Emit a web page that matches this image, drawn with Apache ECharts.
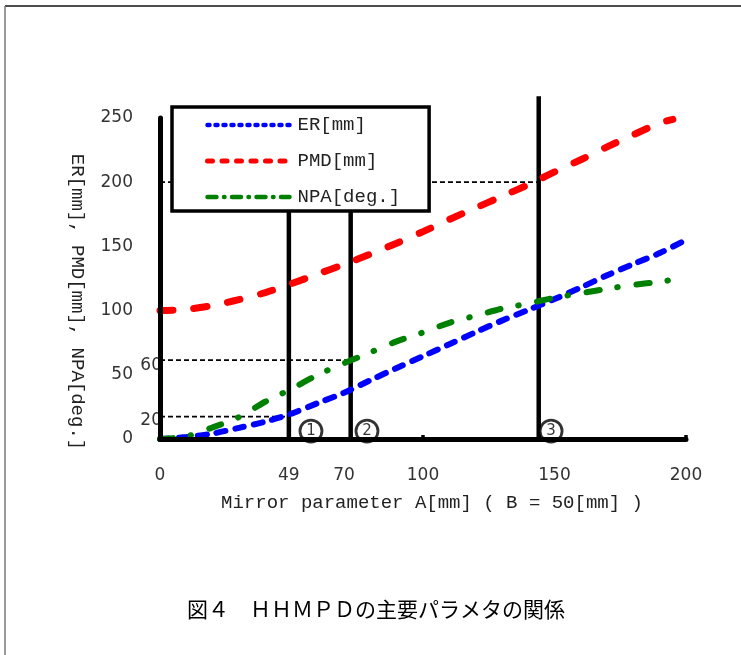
<!DOCTYPE html>
<html>
<head>
<meta charset="utf-8">
<script src="https://cdn.jsdelivr.net/npm/echarts@6/dist/echarts.min.js"></script>
<style>
  html, body { margin: 0; padding: 0; background: #fff; }
  #chart { width: 741px; height: 655px; }
</style>
</head>
<body>
<div id="chart"></div>
<script>
// Mirror parameter A [mm] sampled along the curves
const mirrorA = [0, 10, 20, 30, 40, 50, 60, 70, 80, 90, 100, 110, 120, 130, 140, 150, 160, 170, 180, 190, 200];
const erMm    = [0, 1.5, 4.2, 8.7, 13.5, 19.8, 28, 36, 45.8, 55.3, 64.5, 73.8, 83.2, 92.2, 100.5, 109, 118, 127.5, 136.3, 144.8, 155];
const npaDeg  = [0, 2, 9, 17, 29, 39, 50, 59, 67.5, 76, 83, 90.5, 96, 101.5, 105.5, 110, 113.5, 117, 120, 122.5, 125.5];
const pmdA    = [0, 10, 20, 30, 40, 50, 60, 70, 80, 90, 100, 110, 120, 130, 140, 150, 160, 170, 180, 190, 195];
const pmdMm   = [100, 101, 104, 108.5, 114, 121, 128.5, 136, 144, 152.5, 161.5, 171, 180, 189, 198, 208, 217.5, 227.5, 237, 246, 249];

const seriesNames  = ['ER[mm]', 'PMD[mm]', 'NPA[deg.]'];
const seriesColors = ['#0000ff', '#ff0000', '#008000'];

// Axis ticks
const xTickValues = [0, 49, 70, 100, 150, 200];
const xTickMarks  = [100, 200];
const yMin = 0, yMax = 250, yStep = 50;

// Vertical guide lines at the design points
const guideA   = [49, 72.5, 144];
const guideTop = [200, 200, 267];
// Horizontal dashed guides (level, end point on A, annotation)
const levelY    = [200, 61.5, 17.5];
const levelEndA = [144, 72.5, 49];
const levelText = ['', '60', '20'];
// Circled point numbers
const circleA    = [57.4, 78.7, 148.7];
const circleY    = 6.2;
const circleText = ['1', '2', '3'];

const xName = 'Mirror parameter A[mm] ( B = 50[mm] )';
const yName = 'ER[mm], PMD[mm], NPA[deg.]';
const caption = '図４　ＨＨＭＰＤの主要パラメタの関係';

const MONO = '"Liberation Mono", "DejaVu Sans Mono", monospace';
const SANS = '"DejaVu Sans", sans-serif';

const pairs = (xs, ys) => xs.map((x, i) => [x, ys[i]]);

const series = [];

// Vertical guides
guideA.forEach((a, i) => {
  series.push({
    type: 'line', clip: false, silent: true, symbol: 'none', z: 1, color: '#000',
    data: [[a, 0], [a, guideTop[i]]],
    lineStyle: { color: '#000', width: 4.5 }
  });
});

// Horizontal dashed guides with their level annotation at the axis
levelY.forEach((v, i) => {
  series.push({
    type: 'line', clip: false, silent: true, z: 1, color: '#000',
    symbol: 'circle', symbolSize: 0.1, showSymbol: true,
    data: [
      { value: [0, v], label: { show: !!levelText[i], formatter: levelText[i], position: 'left',
        distance: -2, offset: [0, i === 1 ? 6 : 4], color: '#333', fontFamily: SANS, fontSize: 17 } },
      { value: [levelEndA[i], v], label: { show: false } }
    ],
    lineStyle: { color: '#000', width: 1.8, type: [5, 3] }
  });
});

// Data curves
const curveStyles = [
  { width: 6, type: [9, 10] },
  { width: 7, type: [13, 21] },
  { width: 6, type: [13, 18, 0.5, 19] }
];
const curveData = [pairs(mirrorA, erMm), pairs(pmdA, pmdMm), pairs(mirrorA, npaDeg)];
seriesNames.forEach((name, i) => {
  series.push({
    name: name, type: 'line', smooth: 0.3, symbol: 'none', z: 2,
    color: seriesColors[i],
    data: curveData[i],
    lineStyle: { color: seriesColors[i], width: curveStyles[i].width, type: curveStyles[i].type, cap: 'round' }
  });
});

// Circled numbers
series.push({
  type: 'scatter', silent: true, z: 2,
  symbol: 'circle', symbolSize: 22,
  itemStyle: { color: '#fff', borderColor: '#000', borderWidth: 2.8 },
  data: circleA.map((a, i) => ({ value: [a, circleY], label: { formatter: circleText[i] } })),
  label: { show: true, position: 'inside', color: '#000', fontFamily: SANS, fontSize: 15 }
});

const legendLines = [
  { width: 4.5, type: [2, 6] },
  { width: 5, type: [5, 9.5] },
  { width: 4.5, type: [9, 7.5, 0.5, 7.5] }
];

const chart = echarts.init(document.getElementById('chart'), null, { renderer: 'canvas' });
chart.setOption({
  animation: false,
  backgroundColor: '#fff',
  grid: { left: 160, right: 55, top: 118, bottom: 216 },
  xAxis: {
    type: 'value', min: 0, max: 200, z: 3,
    name: xName, nameLocation: 'middle', nameGap: 54,
    nameTextStyle: { fontFamily: MONO, fontSize: 19, color: '#222', padding: [0, 0, 0, 18] },
    axisLine: { lineStyle: { color: '#000', width: 5, cap: 'round' } },
    axisTick: { show: true, inside: true, length: 4, customValues: xTickMarks,
      lineStyle: { color: '#000', width: 3.5 } },
    axisLabel: { customValues: xTickValues, margin: 28, color: '#333', fontFamily: SANS, fontSize: 17 },
    splitLine: { show: false }
  },
  yAxis: {
    type: 'value', min: yMin, max: yMax, interval: yStep, z: 3,
    axisLine: { show: true, lineStyle: { color: '#000', width: 5, cap: 'round' } },
    axisTick: { show: false },
    axisLabel: { margin: 27, color: '#333', fontFamily: SANS, fontSize: 17 },
    splitLine: { show: false }
  },
  legend: {
    orient: 'vertical', left: 172, top: 107,
    padding: [8, 29, 4, 33],
    backgroundColor: '#fff', borderColor: '#000', borderWidth: 3.5,
    itemWidth: 82, itemHeight: 14, itemGap: 16,
    textStyle: { fontFamily: MONO, fontSize: 19, color: '#222', lineHeight: 20, padding: [0, 0, 0, 3] },
    data: seriesNames.map((name, i) => ({
      name: name,
      itemStyle: { opacity: 0 },
      lineStyle: { color: seriesColors[i], width: legendLines[i].width, type: legendLines[i].type, cap: 'round' }
    }))
  },
  graphic: [
    { type: 'line', silent: true, shape: { x1: 5, y1: 6, x2: 741, y2: 6 }, style: { stroke: '#111', lineWidth: 1.5 } },
    { type: 'line', silent: true, shape: { x1: 5, y1: 6, x2: 5, y2: 655 }, style: { stroke: '#777', lineWidth: 1.5 } },
    { type: 'text', silent: true, x: 77, y: 302, rotation: -Math.PI / 2,
      style: { text: yName, font: '19px ' + MONO, fill: '#222', textAlign: 'center', textVerticalAlign: 'middle' } },
    { type: 'text', silent: true, x: 376, y: 609,
      style: { text: caption, font: '21px "Noto Sans CJK JP", sans-serif', fill: '#000', textAlign: 'center', textVerticalAlign: 'middle' } }
  ],
  series: series
});
</script>
</body>
</html>
